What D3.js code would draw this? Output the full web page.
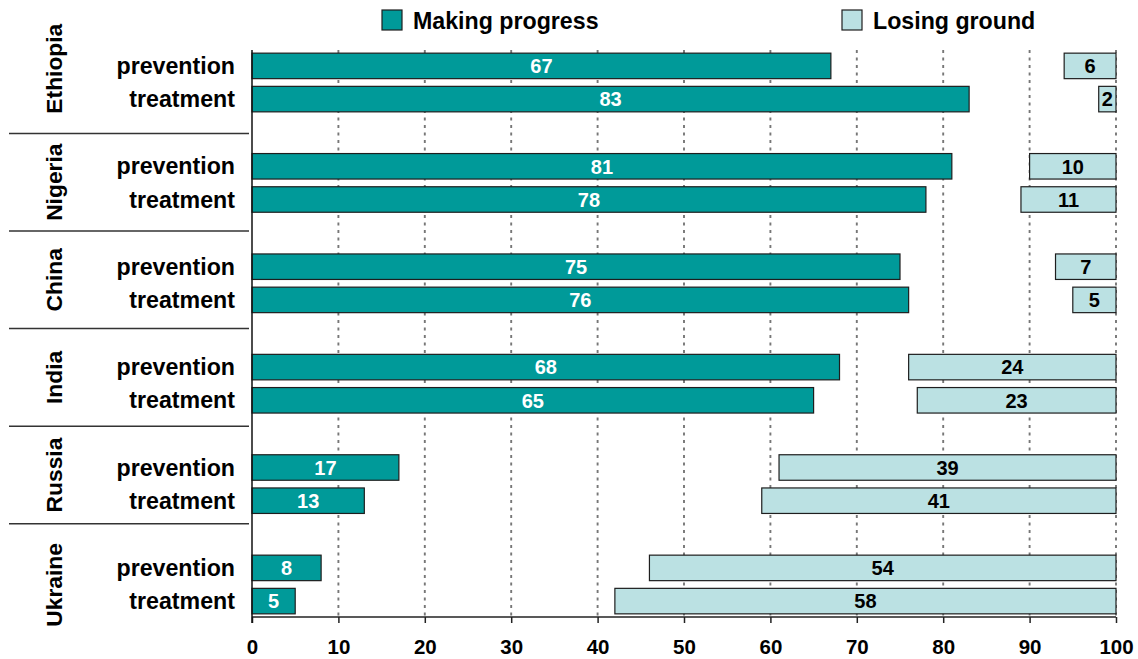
<!DOCTYPE html>
<html>
<head>
<meta charset="utf-8">
<script src="https://cdn.jsdelivr.net/npm/d3@7"></script>
<style>
  html, body { margin: 0; padding: 0; background: #fff; }
  svg { display: block; font-family: "Liberation Sans", Arial, Helvetica, sans-serif; font-weight: bold; }
</style>
</head>
<body>
<svg id="chart" width="1138" height="659"></svg>
<script>
// Survey shares (%) per country and programme area
const countries = ["Ethiopia", "Nigeria", "China", "India", "Russia", "Ukraine"];
const measures = ["prevention", "treatment"];
// "Making progress" share, listed country by country (prevention, treatment)
const makingProgress = [67, 83, 81, 78, 75, 76, 68, 65, 17, 13, 8, 5];
// "Losing ground" share, same order
const losingGround = [6, 2, 10, 11, 7, 5, 24, 23, 39, 41, 54, 58];
const xTicks = [0, 10, 20, 30, 40, 50, 60, 70, 80, 90, 100];
const seriesNames = ["Making progress", "Losing ground"];

const colProgress = "#009a99";
const colLosing = "#bbe1e3";
const barStroke = "#1e1e1e";

const rows = [];
countries.forEach((c, ci) => {
  measures.forEach((m, mi) => {
    const k = ci * measures.length + mi;
    rows.push({ country: c, measure: m, progress: makingProgress[k], losing: losingGround[k] });
  });
});

const svg = d3.select("#chart");

const x = d3.scaleLinear().domain([0, 100]).range([252, 1116]);
const yGroup = d3.scaleBand().domain(countries).range([32.3, 634.7]);
const bw = yGroup.bandwidth();
const yRow = d3.scalePoint().domain(measures).range([bw / 2 - 16.6, bw / 2 + 16.6]);
const barH = 25.5;
const rowY = d => yGroup(d.country) + yRow(d.measure);

const plotTop = 50, plotBottom = 617;

// dotted vertical gridlines
svg.append("g")
  .selectAll("line")
  .data(xTicks.filter(t => t > 0))
  .join("line")
  .attr("x1", d => x(d)).attr("x2", d => x(d))
  .attr("y1", plotTop).attr("y2", plotBottom)
  .attr("stroke", "#777")
  .attr("stroke-width", 1.9)
  .attr("stroke-dasharray", "3,4.5");

// Making progress bars (grow from 0)
const gP = svg.append("g");
gP.selectAll("rect")
  .data(rows)
  .join("rect")
  .attr("x", x(0))
  .attr("y", d => rowY(d) - barH / 2)
  .attr("width", d => x(d.progress) - x(0))
  .attr("height", barH)
  .attr("fill", colProgress)
  .attr("stroke", barStroke)
  .attr("stroke-width", 1.2);
gP.selectAll("text")
  .data(rows)
  .join("text")
  .attr("x", d => (x(0) + x(d.progress)) / 2)
  .attr("y", d => rowY(d))
  .attr("dy", "0.36em")
  .attr("text-anchor", "middle")
  .attr("font-size", 20)
  .attr("fill", "#fff")
  .text(d => d.progress);

// Losing ground bars (anchored at 100)
const gL = svg.append("g");
gL.selectAll("rect")
  .data(rows)
  .join("rect")
  .attr("x", d => x(100 - d.losing))
  .attr("y", d => rowY(d) - barH / 2)
  .attr("width", d => x(100) - x(100 - d.losing))
  .attr("height", barH)
  .attr("fill", colLosing)
  .attr("stroke", barStroke)
  .attr("stroke-width", 1.2);
gL.selectAll("text")
  .data(rows)
  .join("text")
  .attr("x", d => (x(100 - d.losing) + x(100)) / 2)
  .attr("y", d => rowY(d))
  .attr("dy", "0.36em")
  .attr("text-anchor", "middle")
  .attr("font-size", 20)
  .attr("fill", "#000")
  .text(d => d.losing);

// bottom axis
const xAxis = svg.append("g")
  .attr("transform", `translate(0,${plotBottom})`)
  .call(d3.axisBottom(x).tickValues(xTicks).tickSize(6).tickPadding(16.5).tickFormat(d3.format("d")));
xAxis.select(".domain").attr("stroke", "#222").attr("stroke-width", 1.5).attr("d", `M${x(0)},0H${x(100)}`);
xAxis.selectAll(".tick line").attr("stroke", "#222").attr("stroke-width", 1.5);
xAxis.selectAll(".tick text")
  .attr("font-family", "'Liberation Sans', Arial, sans-serif")
  .attr("font-weight", "bold")
  .attr("font-size", 20.5)
  .attr("fill", "#000");

// vertical axis line
svg.append("line")
  .attr("x1", x(0)).attr("x2", x(0))
  .attr("y1", plotTop).attr("y2", plotBottom + 6)
  .attr("stroke", "#111").attr("stroke-width", 1.5);

// row labels
svg.append("g")
  .selectAll("text")
  .data(rows)
  .join("text")
  .attr("x", 235)
  .attr("y", d => rowY(d))
  .attr("dy", "0.35em")
  .attr("text-anchor", "end")
  .attr("font-size", 23.2)
  .attr("fill", "#000")
  .text(d => d.measure);

// country separators and rotated country labels
const sepStep = 97.6, sepFirst = 133.4;
const seps = countries.slice(1).map((c, i) => sepFirst + i * sepStep);
svg.append("g")
  .selectAll("line")
  .data(seps)
  .join("line")
  .attr("x1", 9).attr("x2", 249)
  .attr("y1", d => d).attr("y2", d => d)
  .attr("stroke", "#333").attr("stroke-width", 1.5);

const bounds = [4, ...seps, 646];
svg.append("g")
  .selectAll("text")
  .data(countries)
  .join("text")
  .attr("transform", (d, i) => `translate(62,${(bounds[i] + bounds[i + 1]) / 2}) rotate(-90)`)
  .attr("text-anchor", "middle")
  .attr("font-size", 22.8)
  .attr("fill", "#000")
  .text(d => d);

// legend
const legend = svg.append("g");
const legendX = [382, 842];
const legendCols = [colProgress, colLosing];
seriesNames.forEach((name, i) => {
  legend.append("rect")
    .attr("x", legendX[i]).attr("y", 10)
    .attr("width", 20).attr("height", 20)
    .attr("fill", legendCols[i])
    .attr("stroke", barStroke).attr("stroke-width", 1.2);
  legend.append("text")
    .attr("x", legendX[i] + 31).attr("y", 28.5)
    .attr("font-size", 23.2)
    .attr("fill", "#000")
    .text(name);
});
</script>
</body>
</html>
